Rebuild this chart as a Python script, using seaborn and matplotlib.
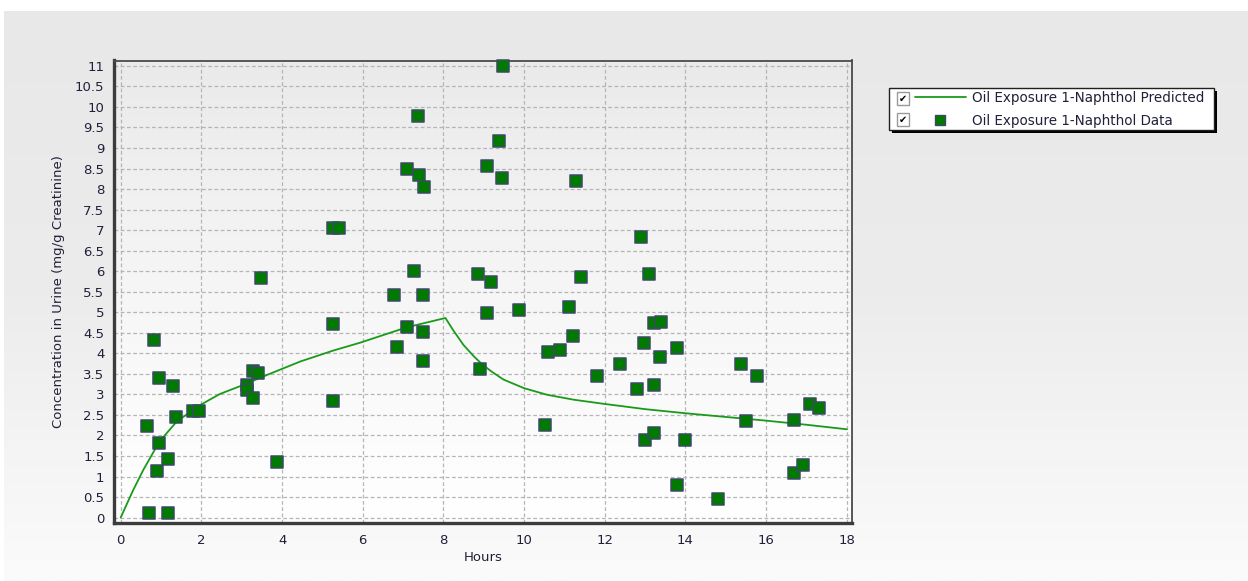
import numpy as np
import pandas as pd
import matplotlib
matplotlib.use("Agg")
import matplotlib.pyplot as plt
import seaborn as sns
from matplotlib.patches import Rectangle
from matplotlib.lines import Line2D
from matplotlib.ticker import MultipleLocator, FuncFormatter
from matplotlib.colors import LinearSegmentedColormap

# ---------------- data ----------------
data_hours = [0.65, 0.69, 0.82, 0.90, 0.95, 0.95, 1.17, 1.17, 1.30, 1.36, 1.79, 1.93,
              3.14, 3.12, 3.27, 3.40, 3.27, 3.49, 3.88, 5.26, 5.41, 5.27, 5.27,
              6.77, 6.86, 7.10, 7.10, 7.26, 7.37, 7.40, 7.52, 7.50, 7.50, 7.50,
              8.86, 8.90, 9.08, 9.08, 9.17, 9.38, 9.44, 9.47, 9.87,
              10.51, 10.59, 10.89, 11.11, 11.21, 11.29, 11.41, 11.80,
              12.37, 12.81, 12.90, 12.98, 12.99, 13.10, 13.21, 13.21, 13.21, 13.39, 13.37,
              13.79, 13.80, 13.99, 14.81, 15.38, 15.50, 15.78,
              16.69, 16.69, 16.91, 17.08, 17.30]
data_conc = [2.24, 0.11, 4.33, 1.14, 3.41, 1.82, 1.43, 0.11, 3.20, 2.44, 2.60, 2.60,
             3.24, 3.11, 3.58, 3.53, 2.90, 5.83, 1.35, 7.05, 7.05, 4.71, 2.85,
             5.42, 4.16, 8.48, 4.64, 6.01, 9.79, 8.34, 8.06, 5.42, 4.52, 3.82,
             5.92, 3.62, 8.57, 4.97, 5.74, 9.17, 8.27, 10.99, 5.05,
             2.25, 4.04, 4.07, 5.13, 4.43, 8.19, 5.86, 3.44,
             3.74, 3.14, 6.83, 4.25, 1.88, 5.93, 4.73, 3.24, 2.07, 4.76, 3.92,
             4.13, 0.80, 1.88, 0.46, 3.74, 2.35, 3.44,
             2.37, 1.08, 1.27, 2.76, 2.66]

pred_hours = [0, 0.31, 0.56, 0.96, 1.39, 1.97, 2.46, 3.04, 3.62, 4.45, 5.28, 5.94,
              7.08, 8.05, 8.25, 8.50, 8.75, 8.95, 9.20, 9.49, 10.0, 10.57, 11.23, 11.97, 12.37,
              13.0, 14.0, 15.0, 16.0, 17.0, 18.0]
pred_conc = [0, 0.67, 1.16, 1.85, 2.34, 2.74, 3.01, 3.23, 3.47, 3.80, 4.07, 4.26,
             4.63, 4.86, 4.55, 4.20, 3.93, 3.74, 3.55, 3.36, 3.15, 2.99, 2.87, 2.77, 2.72,
             2.64, 2.54, 2.45, 2.36, 2.26, 2.15]

series_labels = ["Oil Exposure 1-Naphthol Predicted", "Oil Exposure 1-Naphthol Data"]
x_label = "Hours"
y_label = "Concentration in Urine (mg/g Creatinine)"

# ---------------- styling ----------------
sns.set_style("white")
plt.rcParams['font.family'] = ['DejaVu Sans']
TXT = '#20203a'
LINE_C = '#1a9a1a'
MARK_C = '#007a00'
MARK_E = '#3b4b66'
FS = 9.5
FS_LEG = 9.75

W, H = 1248, 581
fig = plt.figure(figsize=(W / 100, H / 100), dpi=100)
fig.patch.set_facecolor('white')

def fx(px):
    return px / W

def fy(py):
    return 1 - py / H

# background panel with vertical gradient
bg = fig.add_axes([fx(4), 0, 1 - fx(4), fy(11)], zorder=-10)
grad = np.linspace(0, 1, 256).reshape(-1, 1)
cm_bg = LinearSegmentedColormap.from_list('bg', ['#e8e8e8', '#ececec', '#fbfbfb'])
bg.imshow(grad, aspect='auto', cmap=cm_bg, extent=[0, 1, 0, 1], origin='upper')
bg.set_axis_off()

# main axes
ax = fig.add_axes([fx(114), fy(522.7), fx(851.7) - fx(114), fy(60.5) - fy(522.7)])
cm_ax = LinearSegmentedColormap.from_list('axg', ['#eaeaea', '#f6f6f6', '#ffffff'])
ax.imshow(grad, aspect='auto', cmap=cm_ax, extent=[0, 1, 0, 1], origin='upper',
          transform=ax.transAxes, zorder=-5)

df_pred = pd.DataFrame({'Hours': pred_hours, 'Conc': pred_conc})
df_data = pd.DataFrame({'Hours': data_hours, 'Conc': data_conc})

sns.lineplot(data=df_pred, x='Hours', y='Conc', ax=ax, color=LINE_C, lw=1.3,
             sort=False, estimator=None, zorder=3, label=series_labels[0], legend=False)
sns.scatterplot(data=df_data, x='Hours', y='Conc', ax=ax, marker='s', s=72,
                color=MARK_C, edgecolor=MARK_E, linewidth=1.1, zorder=4,
                label=series_labels[1], legend=False, clip_on=False)

ax.set_xlim(-0.166, 18.12)
ax.set_ylim(-0.125, 11.13)
ax.xaxis.set_major_locator(MultipleLocator(2))
ax.xaxis.set_minor_locator(MultipleLocator(0.5))
ax.yaxis.set_major_locator(MultipleLocator(0.5))
ax.yaxis.set_minor_locator(MultipleLocator(0.1))
ax.yaxis.set_major_formatter(FuncFormatter(lambda v, p: f"{v:g}"))
ax.xaxis.set_major_formatter(FuncFormatter(lambda v, p: f"{v:g}"))

ax.grid(True, which='major', linestyle=(0, (3, 2)), color='#b5b5b5', lw=0.9, zorder=1)
ax.set_axisbelow(True)
ax.tick_params(axis='both', which='major', direction='out', length=4, width=1,
               color='#a8a8a8', labelsize=FS, labelcolor=TXT, pad=3)
ax.tick_params(axis='x', which='major', pad=4)
ax.tick_params(axis='both', which='minor', direction='out', length=2.5, width=0.8,
               color='#b8b8b8')

for side in ['left', 'bottom']:
    ax.spines[side].set_color('#3c3c3c')
    ax.spines[side].set_linewidth(2.4)
for side in ['top', 'right']:
    ax.spines[side].set_color('#4a4a4a')
    ax.spines[side].set_linewidth(1.3)

ax.set_xlabel(x_label, fontsize=FS, color=TXT, labelpad=3)
ax.set_ylabel(y_label, fontsize=FS, color=TXT, labelpad=7)

# legend box with shadow and check boxes
lx0, ly0, lx1, ly1 = 889, 88, 1214, 130
fig.patches.append(Rectangle((fx(lx0 + 3), fy(ly1 + 3)), fx(lx1 - lx0), fy(ly0) - fy(ly1),
                             transform=fig.transFigure, facecolor='black', edgecolor='none', zorder=5))
fig.patches.append(Rectangle((fx(lx0), fy(ly1)), fx(lx1 - lx0), fy(ly0) - fy(ly1),
                             transform=fig.transFigure, facecolor='white', edgecolor='#202020',
                             lw=1, zorder=6))
for cy in [98.5, 119.5]:
    fig.patches.append(Rectangle((fx(897), fy(cy + 6)), fx(12), fy(cy - 6) - fy(cy + 6),
                                 transform=fig.transFigure, facecolor='white',
                                 edgecolor='#9a9a9a', lw=1, zorder=7))
    fig.text(fx(903), fy(cy + 0.5), '\u2714', fontsize=7, ha='center', va='center',
             color='black', zorder=8)

handles = [Line2D([], [], color=LINE_C, lw=1.3),
           Line2D([], [], color=MARK_C, marker='s', markersize=7.5, linestyle='none',
                  markeredgecolor=MARK_E, markeredgewidth=1.0)]
leg = fig.legend(handles, series_labels, loc='upper left',
                 bbox_to_anchor=(fx(915), fy(91)), frameon=False, fontsize=FS_LEG,
                 handlelength=3.75, handletextpad=0.45, labelspacing=0.68,
                 borderpad=0, borderaxespad=0)
leg.set_zorder(9)
for t in leg.get_texts():
    t.set_color(TXT)

fig.savefig('out.png', dpi=100, facecolor='white')
